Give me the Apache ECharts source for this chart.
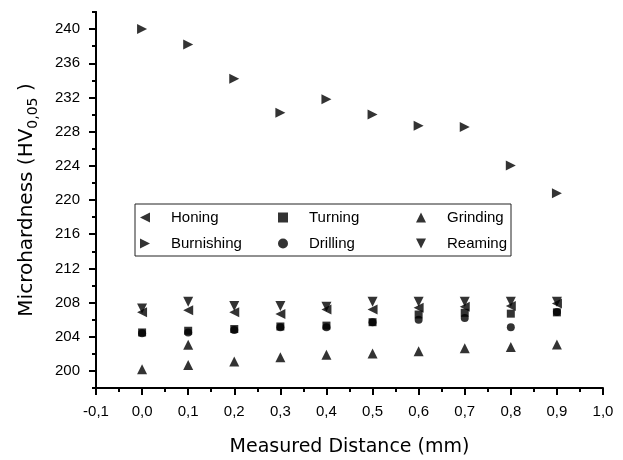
<!DOCTYPE html>
<html>
<head>
<meta charset="utf-8">
<script src="https://cdn.jsdelivr.net/npm/echarts@6/dist/echarts.min.js"></script>
<style>
  html, body { margin: 0; padding: 0; background: #fff; }
  #chart { width: 623px; height: 460px; }
</style>
</head>
<body>
<div id="chart"></div>
<script>
// measured distance (mm)
var distance = [0.0, 0.1, 0.2, 0.3, 0.4, 0.5, 0.6, 0.7, 0.8, 0.9];

// microhardness HV0,05 per process
var honing     = [206.85, 207.1, 206.85, 206.65, 207.2, 207.2, 207.4, 207.5, 207.6, 207.9];
var burnishing = [240.0, 238.2, 234.2, 230.2, 231.8, 230.0, 228.7, 228.55, 224.05, 220.8];
var turning    = [204.5, 204.7, 204.9, 205.2, 205.3, 205.7, 206.6, 206.8, 206.7, 206.85];
var drilling   = [204.4, 204.5, 204.8, 205.1, 205.1, 205.7, 206.0, 206.2, 205.1, 206.9];
var grinding   = [200.2, 200.7, 201.1, 201.6, 201.9, 202.05, 202.3, 202.65, 202.8, 203.1];
var reaming    = [207.3, 208.1, 207.6, 207.6, 207.5, 208.1, 208.1, 208.1, 208.1, 208.1];
// one extra grinding point that sits at 0,1
var grindingExtraX = [0.1];
var grindingExtraY = [203.05];

var yLabels = [200, 204, 208, 212, 216, 220, 224, 228, 232, 236, 240];

var FONT = 'Liberation Sans';
var TITLE_FONT = 'DejaVu Sans';

// legend icons (triangles pointing left / right / down)
var ICON_LEFT  = 'path://M10,0L0,5L10,10Z';
var ICON_RIGHT = 'path://M0,0L10,5L0,10Z';
var ICON_DOWN  = 'path://M0,0L10,0L5,10Z';

function pairs(xs, ys) {
  var out = [];
  for (var i = 0; i < ys.length; i++) out.push([xs[i], ys[i]]);
  return out;
}

var myChart = echarts.init(document.getElementById('chart'), null, { renderer: 'canvas' });

function mark(name, data, symbol, size, rot) {
  return {
    name: name,
    type: 'scatter',
    data: data,
    symbol: symbol,
    symbolSize: size,
    symbolRotate: rot,
    itemStyle: { color: '#000' },
    emphasis: { disabled: true },
    animation: false
  };
}

var colText = function (w) {
  return { fontSize: 15, fontFamily: FONT, color: '#000', width: w, lineHeight: 12, padding: [0, 0, 0, 16] };
};

var option = {
  backgroundColor: '#fff',
  animation: false,
  grid: { left: 96, right: 20, top: 12, bottom: 72, outerBoundsMode: 'none' },
  legend: {
    left: 135,
    top: 204,
    width: 380,
    padding: [6, 3, 5, 5],
    itemGap: 11,
    itemWidth: 10,
    itemHeight: 10,
    borderColor: '#222',
    borderWidth: 1,
    data: [
      { name: 'Honing', icon: ICON_LEFT, textStyle: colText(96) },
      { name: 'Turning', icon: 'rect', textStyle: colText(96) },
      { name: 'Grinding', icon: 'triangle', textStyle: colText(61) },
      { name: 'Burnishing', icon: ICON_RIGHT, textStyle: colText(96) },
      { name: 'Drilling', icon: 'circle', textStyle: colText(96) },
      { name: 'Reaming', icon: ICON_DOWN, textStyle: colText(61) }
    ]
  },
  xAxis: {
    type: 'value',
    min: -0.1,
    max: 1.0,
    interval: 0.1,
    name: 'Measured Distance (mm)',
    nameLocation: 'middle',
    nameGap: 50,
    nameTextStyle: { fontSize: 19, fontFamily: TITLE_FONT, color: '#000' },
    axisLine: { show: true, onZero: false, lineStyle: { color: '#000', width: 2 } },
    axisTick: { show: true, inside: false, length: 7, lineStyle: { color: '#000', width: 2 } },
    minorTick: { show: true, splitNumber: 2, length: 4, lineStyle: { color: '#000', width: 2 } },
    axisLabel: {
      margin: 16, fontSize: 15, fontFamily: FONT, color: '#000',
      formatter: function (v) { return v.toFixed(1).replace('.', ','); }
    },
    splitLine: { show: false },
    minorSplitLine: { show: false }
  },
  yAxis: [
    {
      // every 2 units a short tick, labels every 4
      type: 'value',
      position: 'left',
      min: 198,
      max: 242,
      interval: 2,
      name: 'Microhardness (HV{s|0,05} )',
      nameLocation: 'middle',
      nameRotate: 90,
      nameGap: 56,
      nameTextStyle: {
        fontSize: 20, fontFamily: TITLE_FONT, color: '#000',
        rich: { s: { fontSize: 14, fontFamily: TITLE_FONT, color: '#000', padding: [12, 0, 0, 0] } }
      },
      axisLine: { show: true, onZero: false, lineStyle: { color: '#000', width: 2 } },
      axisTick: { show: true, length: 4, lineStyle: { color: '#000', width: 2 } },
      axisLabel: { margin: 16, fontSize: 15, fontFamily: FONT, color: '#000', customValues: yLabels },
      splitLine: { show: false }
    },
    {
      // long ticks at the labelled values
      type: 'value',
      position: 'left',
      min: 198,
      max: 242,
      axisLine: { show: true, onZero: false, lineStyle: { color: '#000', width: 2 } },
      axisTick: { show: true, length: 7, customValues: yLabels, lineStyle: { color: '#000', width: 2 } },
      axisLabel: { show: false },
      splitLine: { show: false }
    }
  ],
  series: [
    mark('Honing', pairs(distance, honing), 'triangle', 10, 90),
    mark('Turning', pairs(distance, turning), 'rect', 8, 0),
    mark('Grinding', pairs(distance, grinding).concat(pairs(grindingExtraX, grindingExtraY)), 'triangle', 10, 0),
    mark('Burnishing', pairs(distance, burnishing), 'triangle', 10, -90),
    mark('Drilling', pairs(distance, drilling), 'circle', 8, 0),
    mark('Reaming', pairs(distance, reaming), 'triangle', 10, 180)
  ]
};

myChart.setOption(option);
</script>
</body>
</html>
